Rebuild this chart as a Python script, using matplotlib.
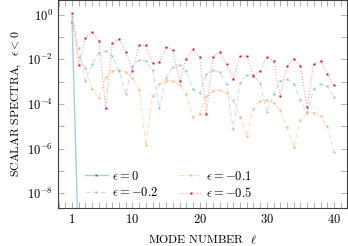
import numpy as np
import matplotlib.pyplot as plt
import matplotlib as mpl
from matplotlib.ticker import FixedLocator, MultipleLocator, NullFormatter

mpl.rcParams['mathtext.fontset'] = 'cm'
mpl.rcParams['font.family'] = 'serif'
mpl.rcParams['font.serif'] = ['cmr10', 'DejaVu Serif']
mpl.rcParams['axes.formatter.use_mathtext'] = True

# mode numbers
ell = np.arange(1, 41)

# log10 of the spectra
eps0_ell = [1, 2]
eps0_log = [-0.31, -10.9]

eps01_log = [-0.17, -1.88, -2.39, -3.33, -3.72, -2.80, -2.52, -2.48, -2.55, -2.82,
             -3.37, -5.84, -3.63, -3.12, -2.95, -2.96, -3.15, -3.55, -4.58, -4.43,
             -3.64, -3.40, -3.36, -3.51, -3.81, -4.57, -5.43, -4.22, -3.86, -3.82,
             -3.95, -4.27, -5.03, -5.92, -4.73, -4.39, -4.39, -4.55, -4.97, -6.16]

eps02_log = [-0.04, -1.51, -2.95, -2.22, -1.70, -1.63, -1.85, -2.52, -3.57, -2.28,
             -2.01, -2.07, -2.48, -4.18, -2.82, -2.33, -2.27, -2.51, -3.34, -3.52,
             -2.66, -2.48, -2.58, -3.12, -5.13, -3.07, -2.70, -2.69, -3.07, -4.37,
             -3.57, -2.97, -2.88, -3.10, -3.82, -4.36, -3.33, -3.10, -3.19, -3.67]

eps05_log = [0.06, -2.27, -1.06, -0.77, -1.16, -4.19, -1.28, -1.10, -1.66, -2.51,
             -1.36, -1.35, -2.18, -2.13, -1.46, -1.60, -2.98, -1.97, -1.55, -1.88,
             -4.45, -1.88, -1.68, -2.22, -2.88, -1.86, -1.86, -2.73, -2.51, -1.91,
             -2.06, -3.64, -2.31, -1.97, -2.31, -4.15, -2.22, -2.07, -2.67, -3.15]

fig = plt.figure(figsize=(3.48, 2.46), dpi=100)
ax = fig.add_axes([58.3/348, 1-207.7/246, (346.7-58.3)/348, (207.7-0.5)/246])

ms = 1.8
h0, = ax.plot(eps0_ell, 10**np.array(eps0_log), '-', color='#a6cee3', lw=1.0,
              marker='s', ms=ms, mfc='#2171b5', mec='none', label=r'$\epsilon = 0$')
h1, = ax.plot(ell, 10**np.array(eps01_log), '--', color='#fdd9b8', lw=0.7, dashes=(5, 3),
              marker='s', ms=ms, mfc='#fdae6b', mec='none', label=r'$\epsilon = -0.1$')
h2, = ax.plot(ell, 10**np.array(eps02_log), '--', color='#c6dbef', lw=0.7, dashes=(5, 3),
              marker='s', ms=ms, mfc='#8ec3e0', mec='none', label=r'$\epsilon = -0.2$')
h5, = ax.plot(ell, 10**np.array(eps05_log), ':', color='#f4a0a8', lw=0.8,
              marker='s', ms=2.0, mfc='#d0112b', mec='none', label=r'$\epsilon = -0.5$')

ax.set_yscale('log')
ax.set_xlim(-1.05, 41.9)
ax.set_ylim(10**-8.64, 10**0.636)

ax.xaxis.set_major_locator(FixedLocator([1, 10, 20, 30, 40]))
ax.xaxis.set_minor_locator(MultipleLocator(1))
ax.yaxis.set_major_locator(FixedLocator([1e-8, 1e-6, 1e-4, 1e-2, 1e0]))
ax.yaxis.set_minor_locator(FixedLocator([1e-7, 1e-5, 1e-3, 1e-1]))
ax.yaxis.set_minor_formatter(NullFormatter())
ax.set_yticklabels([r'$10^{-8}$', r'$10^{-6}$', r'$10^{-4}$', r'$10^{-2}$', r'$10^{0}$'])
ax.set_xticklabels([r'$1$', r'$10$', r'$20$', r'$30$', r'$40$'])

for s in ax.spines.values():
    s.set_color('#404040')
    s.set_linewidth(0.8)
ax.tick_params(which='both', direction='in', top=True, right=True, length=4,
               width=0.5, color='#909090', labelsize=9, pad=4)

ax.set_xlabel(r'MODE NUMBER  $\ell$', fontsize=8.5, labelpad=5)
ax.set_ylabel(r'SCALAR SPECTRA,  $\epsilon < 0$', fontsize=8.5, labelpad=3)

ax.legend([h0, h2, h1, h5], [h0.get_label(), h2.get_label(), h1.get_label(), h5.get_label()],
          ncol=2, loc='lower left', bbox_to_anchor=(0.07, 0.005), frameon=False,
          fontsize=9, borderpad=0, handlelength=1.85, handletextpad=0.3,
          columnspacing=1.7, labelspacing=0.3)

fig.savefig('out.png', dpi=100)
